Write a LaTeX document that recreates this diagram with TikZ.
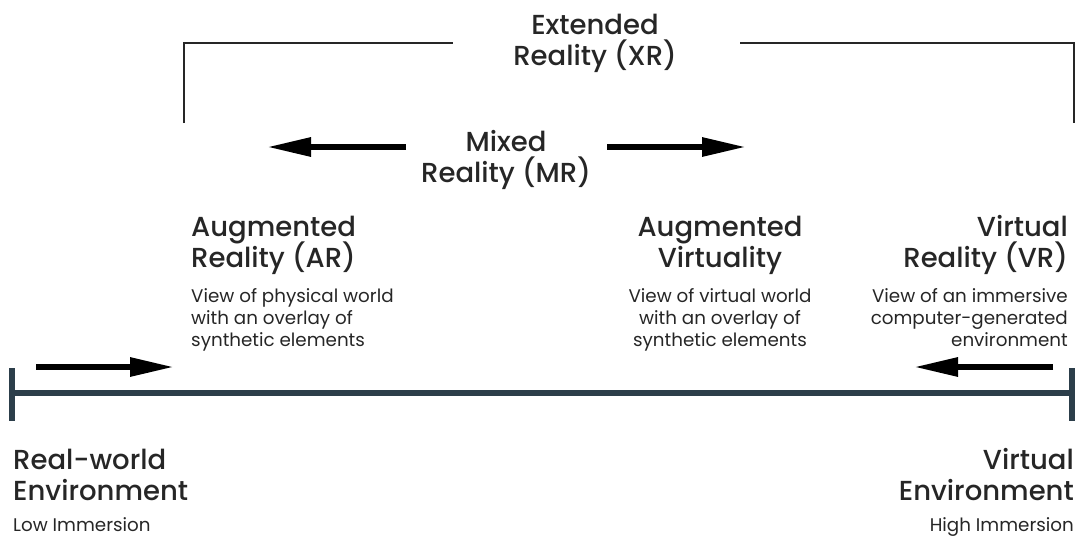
\documentclass[tikz,border=0pt]{standalone}
\usepackage{fontspec}
\setmainfont{Poppins}[BoldFont={Poppins Medium}]
\usetikzlibrary{arrows.meta}
\definecolor{inkgray}{HTML}{262626}
\definecolor{axisslate}{HTML}{2C3E4A}
% keep every line at the fixed baseline distance
\newcommand\tightlines{\lineskiplimit=-20pt\relax\lineskip=0pt\relax}
\begin{document}
\begin{tikzpicture}[x=1pt,y=-1pt,
  heading/.style={font=\bfseries\fontsize{27.5}{31}\selectfont\tightlines, text=inkgray, inner sep=0pt},
  note/.style={font=\fontsize{18.3}{22}\selectfont\tightlines, text=inkgray, inner sep=0pt},
  bracket/.style={draw=inkgray, line width=2pt},
  bigarrow/.style={draw=black, line width=6pt, -{Triangle[length=44pt,width=18pt]}},
  axisline/.style={draw=axisslate, line width=5.5pt},
  tickbar/.style={draw=axisslate, line width=6pt}]
\useasboundingbox (0,0) rectangle (1080,536);

% Extended Reality bracket (the base anchor sits on the last line)
\node[heading, align=center, anchor=base] (xr) at (595,65) {Extended\\Reality (XR)};
\coordinate (xrL) at (184,123);
\coordinate (xrLT) at (184,43);
\coordinate (xrLE) at (453,43);
\coordinate (xrRE) at (740,43);
\coordinate (xrRT) at (1074,43);
\coordinate (xrR) at (1074,123);
\draw[bracket] (xrL) -- (xrLT) -- (xrLE);
\draw[bracket] (xrRE) -- (xrRT) -- (xrR);

% Mixed Reality with its arrows
\node[heading, align=center, anchor=base] (mr) at (506,182) {Mixed\\Reality (MR)};
\coordinate (mrLs) at (406,147);
\coordinate (mrLe) at (267,147);
\coordinate (mrRs) at (607,147);
\coordinate (mrRe) at (746,147);
\draw[bigarrow] (mrLs) -- (mrLe);
\draw[bigarrow] (mrRs) -- (mrRe);

% Points along the continuum
\node[heading, align=left, anchor=base west] (ar) at (191,267) {Augmented\\Reality (AR)};
\node[note, align=left, anchor=base west] (ardesc) at (191,346) {View of physical world\\with an overlay of\\synthetic elements};

\node[heading, align=center, anchor=base] (av) at (720,267) {Augmented\\Virtuality};
\node[note, align=center, anchor=base] (avdesc) at (720,346) {View of virtual world\\with an overlay of\\synthetic elements};

\node[heading, align=right, anchor=base east] (vr) at (1068,267) {Virtual\\Reality (VR)};
\node[note, align=right, anchor=base east] (vrdesc) at (1068,346) {View of an immersive\\computer-generated\\environment};

% Continuum axis
\coordinate (axL) at (12,393);
\coordinate (axR) at (1072,393);
\coordinate (axLt) at (12,368);
\coordinate (axLb) at (12,421);
\coordinate (axRt) at (1072,368);
\coordinate (axRb) at (1072,421);
\draw[axisline] (axL) -- (axR);
\draw[tickbar] (axLt) -- (axLb);
\draw[tickbar] (axRt) -- (axRb);

% Arrows above the axis ends
\coordinate (loS) at (36,367);
\coordinate (loE) at (174,367);
\coordinate (hiS) at (1053,367);
\coordinate (hiE) at (914,367);
\draw[bigarrow] (loS) -- (loE);
\draw[bigarrow] (hiS) -- (hiE);

% End labels
\node[heading, align=left, anchor=base west] (rw) at (13,500) {Real-world\\Environment};
\node[note, anchor=base west] (low) at (13,531) {Low Immersion};
\node[heading, align=right, anchor=base east] (ve) at (1074,500) {Virtual\\Environment};
\node[note, anchor=base east] (high) at (1074,531) {High Immersion};
\end{tikzpicture}
\end{document}
